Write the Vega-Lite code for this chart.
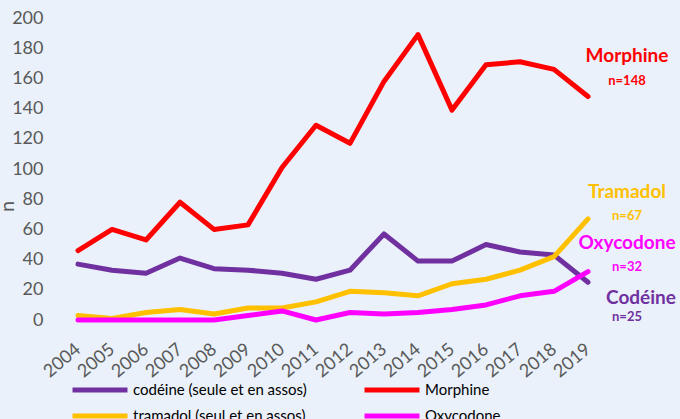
{
  "$schema": "https://vega.github.io/schema/vega-lite/v6.json",
  "width": 544,
  "height": 302,
  "autosize": {"type": "none"},
  "padding": {"left": 61, "top": 18, "right": 75, "bottom": 99},
  "background": "#EAF1FA",
  "config": {
    "view": {"stroke": null},
    "font": "Lato",
    "axis": {"grid": false, "domain": false, "ticks": false, "labelColor": "#595959", "labelFont": "Lato", "labelOverlap": false},
    "legend": {"labelFont": "Lato"}
  },
  "datasets": {
    "series": [
      {"year": "2004", "serie": "codéine (seule et en assos)", "n": 37},
      {"year": "2005", "serie": "codéine (seule et en assos)", "n": 33},
      {"year": "2006", "serie": "codéine (seule et en assos)", "n": 31},
      {"year": "2007", "serie": "codéine (seule et en assos)", "n": 41},
      {"year": "2008", "serie": "codéine (seule et en assos)", "n": 34},
      {"year": "2009", "serie": "codéine (seule et en assos)", "n": 33},
      {"year": "2010", "serie": "codéine (seule et en assos)", "n": 31},
      {"year": "2011", "serie": "codéine (seule et en assos)", "n": 27},
      {"year": "2012", "serie": "codéine (seule et en assos)", "n": 33},
      {"year": "2013", "serie": "codéine (seule et en assos)", "n": 57},
      {"year": "2014", "serie": "codéine (seule et en assos)", "n": 39},
      {"year": "2015", "serie": "codéine (seule et en assos)", "n": 39},
      {"year": "2016", "serie": "codéine (seule et en assos)", "n": 50},
      {"year": "2017", "serie": "codéine (seule et en assos)", "n": 45},
      {"year": "2018", "serie": "codéine (seule et en assos)", "n": 43},
      {"year": "2019", "serie": "codéine (seule et en assos)", "n": 25},
      {"year": "2004", "serie": "Morphine", "n": 46},
      {"year": "2005", "serie": "Morphine", "n": 60},
      {"year": "2006", "serie": "Morphine", "n": 53},
      {"year": "2007", "serie": "Morphine", "n": 78},
      {"year": "2008", "serie": "Morphine", "n": 60},
      {"year": "2009", "serie": "Morphine", "n": 63},
      {"year": "2010", "serie": "Morphine", "n": 101},
      {"year": "2011", "serie": "Morphine", "n": 129},
      {"year": "2012", "serie": "Morphine", "n": 117},
      {"year": "2013", "serie": "Morphine", "n": 158},
      {"year": "2014", "serie": "Morphine", "n": 189},
      {"year": "2015", "serie": "Morphine", "n": 139},
      {"year": "2016", "serie": "Morphine", "n": 169},
      {"year": "2017", "serie": "Morphine", "n": 171},
      {"year": "2018", "serie": "Morphine", "n": 166},
      {"year": "2019", "serie": "Morphine", "n": 148},
      {"year": "2004", "serie": "tramadol (seul et en assos)", "n": 3},
      {"year": "2005", "serie": "tramadol (seul et en assos)", "n": 1},
      {"year": "2006", "serie": "tramadol (seul et en assos)", "n": 5},
      {"year": "2007", "serie": "tramadol (seul et en assos)", "n": 7},
      {"year": "2008", "serie": "tramadol (seul et en assos)", "n": 4},
      {"year": "2009", "serie": "tramadol (seul et en assos)", "n": 8},
      {"year": "2010", "serie": "tramadol (seul et en assos)", "n": 8},
      {"year": "2011", "serie": "tramadol (seul et en assos)", "n": 12},
      {"year": "2012", "serie": "tramadol (seul et en assos)", "n": 19},
      {"year": "2013", "serie": "tramadol (seul et en assos)", "n": 18},
      {"year": "2014", "serie": "tramadol (seul et en assos)", "n": 16},
      {"year": "2015", "serie": "tramadol (seul et en assos)", "n": 24},
      {"year": "2016", "serie": "tramadol (seul et en assos)", "n": 27},
      {"year": "2017", "serie": "tramadol (seul et en assos)", "n": 33},
      {"year": "2018", "serie": "tramadol (seul et en assos)", "n": 42},
      {"year": "2019", "serie": "tramadol (seul et en assos)", "n": 67},
      {"year": "2004", "serie": "Oxycodone", "n": 0},
      {"year": "2005", "serie": "Oxycodone", "n": 0},
      {"year": "2006", "serie": "Oxycodone", "n": 0},
      {"year": "2007", "serie": "Oxycodone", "n": 0},
      {"year": "2008", "serie": "Oxycodone", "n": 0},
      {"year": "2009", "serie": "Oxycodone", "n": 3},
      {"year": "2010", "serie": "Oxycodone", "n": 6},
      {"year": "2011", "serie": "Oxycodone", "n": 0},
      {"year": "2012", "serie": "Oxycodone", "n": 5},
      {"year": "2013", "serie": "Oxycodone", "n": 4},
      {"year": "2014", "serie": "Oxycodone", "n": 5},
      {"year": "2015", "serie": "Oxycodone", "n": 7},
      {"year": "2016", "serie": "Oxycodone", "n": 10},
      {"year": "2017", "serie": "Oxycodone", "n": 16},
      {"year": "2018", "serie": "Oxycodone", "n": 19},
      {"year": "2019", "serie": "Oxycodone", "n": 32}
    ],
    "labels": [
      {"year": "2019", "serie": "Morphine", "kind": "name", "text": "Morphine", "n": 175},
      {"year": "2019", "serie": "Morphine", "kind": "count", "text": "n=148", "n": 158},
      {"year": "2019", "serie": "tramadol (seul et en assos)", "kind": "name", "text": "Tramadol", "n": 85},
      {"year": "2019", "serie": "tramadol (seul et en assos)", "kind": "count", "text": "n=67", "n": 69},
      {"year": "2019", "serie": "Oxycodone", "kind": "name", "text": "Oxycodone", "n": 51},
      {"year": "2019", "serie": "Oxycodone", "kind": "count", "text": "n=32", "n": 35},
      {"year": "2019", "serie": "codéine (seule et en assos)", "kind": "name2", "text": "Codéine", "n": 14.5},
      {"year": "2019", "serie": "codéine (seule et en assos)", "kind": "count", "text": "n=25", "n": 2}
    ]
  },
  "encoding": {
    "x": {
      "field": "year", "type": "ordinal",
      "scale": {"type": "point", "padding": 0.5},
      "axis": {"title": null, "labelAngle": -40, "labelFontSize": 18, "labelAlign": "right", "labelBaseline": "middle", "labelPadding": 27, "labelOverlap": false}
    },
    "y": {
      "field": "n", "type": "quantitative",
      "scale": {"domain": [0, 200]},
      "axis": {"title": "n", "titleFontSize": 20, "titleFontWeight": "normal", "titleColor": "#595959", "values": [0, 20, 40, 60, 80, 100, 120, 140, 160, 180, 200], "labelFontSize": 18, "labelPadding": 18, "labelOverlap": false, "titleY": 188, "titleX": -44, "titleBaseline": "bottom"}
    },
    "color": {
      "field": "serie", "type": "nominal",
      "scale": {
        "domain": ["codéine (seule et en assos)", "Morphine", "tramadol (seul et en assos)", "Oxycodone"],
        "range": ["#7030A0", "#FF0000", "#FFC000", "#FF00FF"]
      },
      "legend": {
        "orient": "none", "legendX": 31, "legendY": 364, "direction": "horizontal", "columns": 2,
        "title": null, "symbolType": "M-5,0H5", "symbolSize": 121, "symbolStrokeWidth": 5,
        "labelFontSize": 15, "labelColor": "#000000", "labelOffset": 25, "columnPadding": 47, "rowPadding": 6, "labelLimit": 300
      }
    }
  },
  "layer": [
    {
      "data": {"name": "series"},
      "mark": {"type": "line", "strokeWidth": 5, "strokeCap": "round", "strokeJoin": "round"}
    },
    {
      "data": {"name": "labels"},
      "transform": [{"filter": "datum.kind == 'name'"}],
      "mark": {"type": "text", "fontWeight": "bold", "fontSize": 19, "align": "center", "baseline": "middle", "dx": 39},
      "encoding": {"text": {"field": "text"}}
    },
    {
      "data": {"name": "labels"},
      "transform": [{"filter": "datum.kind == 'name2'"}],
      "mark": {"type": "text", "fontWeight": "bold", "fontSize": 19, "align": "center", "baseline": "middle", "dx": 53},
      "encoding": {"text": {"field": "text"}}
    },
    {
      "data": {"name": "labels"},
      "transform": [{"filter": "datum.kind == 'count'"}],
      "mark": {"type": "text", "fontWeight": "bold", "fontSize": 13, "align": "center", "baseline": "middle", "dx": 39},
      "encoding": {"text": {"field": "text"}}
    }
  ]
}
